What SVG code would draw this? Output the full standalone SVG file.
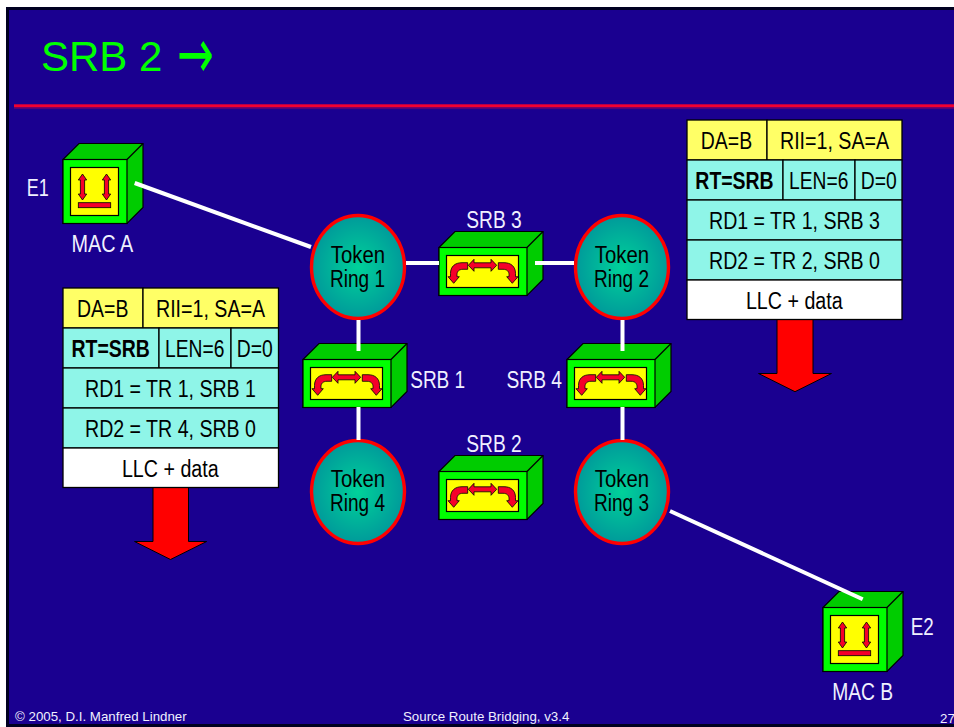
<svg xmlns="http://www.w3.org/2000/svg" width="954" height="727" viewBox="0 0 954 727">
<style>
text{font-family:"Liberation Sans",Arial,sans-serif;font-size:23px}
.w{fill:#f0f0ff;text-anchor:middle}
.k{fill:#000;text-anchor:middle}
.b{font-weight:bold}
.f{fill:#f0f0ff;font-size:13.3px}
.c{stroke:#000;stroke-width:1.3}
.y{fill:#ffff66}.t{fill:#8ff5e8}.wh{fill:#fff}
.l{stroke:#fff;stroke-width:4;fill:none}
.ring{fill:url(#rg);stroke:#f00;stroke-width:3.4}
.ar{fill:#f00;stroke:#000;stroke-width:1}
.sa{fill:#f5002a;stroke:#000;stroke-width:.8}
</style>
<defs>
<radialGradient id="rg"><stop offset="0" stop-color="#00d29a"/><stop offset="1" stop-color="#009a9a"/></radialGradient>
<path id="arrows" class="sa" d="M4.200 0L8.400 6H6.300V20H8.400L4.200 26L0 20H2.100V6H0Z"/>
<g id="cube">
<path d="M0 16L16 0H80V64L64 80H0Z" fill="#00cc00" stroke="#000" stroke-width="1.2"/>
<rect x="0" y="16" width="64" height="64" fill="#00ff00" stroke="#000" stroke-width="1.2"/>
<path d="M64 16L80 0" stroke="#000" stroke-width="1.2"/>
<rect x="7.500" y="24" width="48" height="48" fill="#ffff00" stroke="#000" stroke-width="1.2"/>
<use href="#arrows" x="15.300" y="30.500"/>
<use href="#arrows" x="39.300" y="30.500"/>
<rect x="15.300" y="59.200" width="32.400" height="5" class="sa"/>
</g>
<g id="bridge">
<path d="M0 16L16 0H104V48L88 64H0Z" fill="#00cc00" stroke="#000" stroke-width="1.2"/>
<rect x="0" y="16" width="88" height="48" fill="#00ff00" stroke="#000" stroke-width="1.2"/>
<path d="M88 16L104 0" stroke="#000" stroke-width="1.2"/>
<rect x="7.500" y="24" width="72" height="32" fill="#ffff00" stroke="#000" stroke-width="1.2"/>
<path class="sa" d="M29.300 33.800L35 27.800V31.300H52V27.800L57.700 33.800L52 39.800V36.300H35V39.800Z"/>
<path class="sa" d="M28.700 31.200V37.800H24C20 37.800 18 40 18 43V45.200H20.300L14.700 51.800L9 45.200H11.500V42C11.500 35 16 31.200 23 31.200Z"/>
<path class="sa" d="M59.300 31.200V37.800H64C68 37.800 70 40 70 43V45.200H67.700L73.300 51.800L79 45.200H76.500V42C76.500 35 72 31.200 65 31.200Z"/>
</g>
</defs>
<rect width="954" height="727" fill="#fff"/>
<rect x="7.500" y="8.500" width="948" height="717" fill="#1a0090" stroke="#000020" stroke-width="3"/>
<text x="41" y="71" style="font-size:42px" fill="#00ff00">SRB 2</text>
<text transform="translate(177,78.400) scale(1,1.600)" style="font-family:'DejaVu Sans',sans-serif;font-size:44px" fill="#00ff00">→</text>
<rect x="14" y="104.300" width="940" height="3" fill="#f00030"/>
<rect x="14" y="107.300" width="940" height="1.300" fill="#800060"/>
<g id="e1"><use href="#cube" x="63" y="143.500"/><text class="w" x="37.700" y="196" textLength="22" lengthAdjust="spacingAndGlyphs">E1</text><text class="w" x="102.300" y="252" textLength="61.700" lengthAdjust="spacingAndGlyphs">MAC A</text></g>
<g id="e2"><use href="#cube" x="823" y="591.500"/><text class="w" x="922.300" y="635" textLength="23" lengthAdjust="spacingAndGlyphs">E2</text><text class="w" x="862.700" y="700" textLength="61" lengthAdjust="spacingAndGlyphs">MAC B</text></g>
<g id="ring1"><ellipse class="ring" cx="358" cy="267" rx="46.500" ry="51.500"/><text class="k" x="358" y="263" textLength="54.300" lengthAdjust="spacingAndGlyphs">Token</text><text class="k" x="357.500" y="287" textLength="55" lengthAdjust="spacingAndGlyphs">Ring 1</text></g>
<g id="ring2"><ellipse class="ring" cx="622" cy="267" rx="46.500" ry="51.500"/><text class="k" x="622" y="263" textLength="54.300" lengthAdjust="spacingAndGlyphs">Token</text><text class="k" x="621.500" y="287" textLength="55" lengthAdjust="spacingAndGlyphs">Ring 2</text></g>
<g id="ring3"><ellipse class="ring" cx="622" cy="492" rx="46.500" ry="51.500"/><text class="k" x="622" y="487" textLength="54.300" lengthAdjust="spacingAndGlyphs">Token</text><text class="k" x="621.500" y="511" textLength="55" lengthAdjust="spacingAndGlyphs">Ring 3</text></g>
<g id="ring4"><ellipse class="ring" cx="358" cy="492" rx="46.500" ry="51.500"/><text class="k" x="358" y="487" textLength="54.300" lengthAdjust="spacingAndGlyphs">Token</text><text class="k" x="357.500" y="511" textLength="55" lengthAdjust="spacingAndGlyphs">Ring 4</text></g>
<g id="srb3"><use href="#bridge" x="439" y="231.500"/><text class="w" x="494" y="228" textLength="55.500" lengthAdjust="spacingAndGlyphs">SRB 3</text></g>
<g id="srb1"><use href="#bridge" x="303" y="343.500"/><text class="w" x="437.700" y="388" textLength="55" lengthAdjust="spacingAndGlyphs">SRB 1</text></g>
<g id="srb4"><use href="#bridge" x="567" y="343.500"/><text class="w" x="534.300" y="388" textLength="55.500" lengthAdjust="spacingAndGlyphs">SRB 4</text></g>
<g id="srb2"><use href="#bridge" x="439" y="455.500"/><text class="w" x="494" y="452" textLength="55.500" lengthAdjust="spacingAndGlyphs">SRB 2</text></g>
<g id="connectors">
<path class="l" d="M134.700 183L311 247"/>
<path class="l" d="M406 263H439"/>
<path class="l" d="M535 263H574"/>
<path class="l" d="M358.500 320V351"/>
<path class="l" d="M358.500 407V440"/>
<path class="l" d="M622.500 320V351"/>
<path class="l" d="M622.500 407V440"/>
<path class="l" d="M670 511L862.700 599.300"/>
</g>
<g id="frame-right">
<path class="ar" d="M777 319V373.500H758.500L795 391.700L831.500 373.500H813V319Z"/>
<rect class="y c" x="687" y="120" width="80" height="40"/><rect class="y c" x="767" y="120" width="135" height="40"/>
<rect class="t c" x="687" y="160" width="96" height="40"/><rect class="t c" x="783" y="160" width="72" height="40"/><rect class="t c" x="855" y="160" width="47" height="40"/>
<rect class="t c" x="687" y="200" width="215" height="40"/><rect class="t c" x="687" y="240" width="215" height="40"/><rect class="wh c" x="687" y="280" width="215" height="39.500"/>
<text class="k" x="726.500" y="149" textLength="51.300" lengthAdjust="spacingAndGlyphs">DA=B</text><text class="k" x="834.500" y="149" textLength="109" lengthAdjust="spacingAndGlyphs">RII=1, SA=A</text>
<text class="k b" x="734.500" y="189" textLength="78.300" lengthAdjust="spacingAndGlyphs">RT=SRB</text><text class="k" x="818.700" y="189" textLength="59.300" lengthAdjust="spacingAndGlyphs">LEN=6</text><text class="k" x="878.700" y="189" textLength="36" lengthAdjust="spacingAndGlyphs">D=0</text>
<text class="k" x="794.500" y="229" textLength="171" lengthAdjust="spacingAndGlyphs">RD1 = TR 1, SRB 3</text><text class="k" x="794.500" y="269" textLength="171" lengthAdjust="spacingAndGlyphs">RD2 = TR 2, SRB 0</text><text class="k" x="794.300" y="309" textLength="96.700" lengthAdjust="spacingAndGlyphs">LLC + data</text>
</g>
<g id="frame-left">
<path class="ar" d="M153 487.500V541.500H134.500L170.500 559.500L206.700 541.500H188.500V487.500Z"/>
<rect class="y c" x="63" y="288" width="80" height="40"/><rect class="y c" x="143" y="288" width="135.500" height="40"/>
<rect class="t c" x="63" y="328" width="96" height="40"/><rect class="t c" x="159" y="328" width="72" height="40"/><rect class="t c" x="231" y="328" width="47.500" height="40"/>
<rect class="t c" x="63" y="368" width="215.500" height="40"/><rect class="t c" x="63" y="408" width="215.500" height="40"/><rect class="wh c" x="63" y="448" width="215.500" height="39.500"/>
<text class="k" x="102.700" y="317" textLength="51.300" lengthAdjust="spacingAndGlyphs">DA=B</text><text class="k" x="210.500" y="317" textLength="109" lengthAdjust="spacingAndGlyphs">RII=1, SA=A</text>
<text class="k b" x="110.700" y="357" textLength="78.300" lengthAdjust="spacingAndGlyphs">RT=SRB</text><text class="k" x="194.700" y="357" textLength="59.300" lengthAdjust="spacingAndGlyphs">LEN=6</text><text class="k" x="254.700" y="357" textLength="36" lengthAdjust="spacingAndGlyphs">D=0</text>
<text class="k" x="170.500" y="397" textLength="171" lengthAdjust="spacingAndGlyphs">RD1 = TR 1, SRB 1</text><text class="k" x="170.500" y="437" textLength="171" lengthAdjust="spacingAndGlyphs">RD2 = TR 4, SRB 0</text><text class="k" x="170.300" y="477" textLength="96.700" lengthAdjust="spacingAndGlyphs">LLC + data</text>
</g>
<text class="f" x="15" y="720.500">© 2005, D.I. Manfred Lindner</text>
<text class="f" x="403" y="720.500">Source Route Bridging, v3.4</text>
<text class="f" x="940" y="723">27</text>
</svg>
